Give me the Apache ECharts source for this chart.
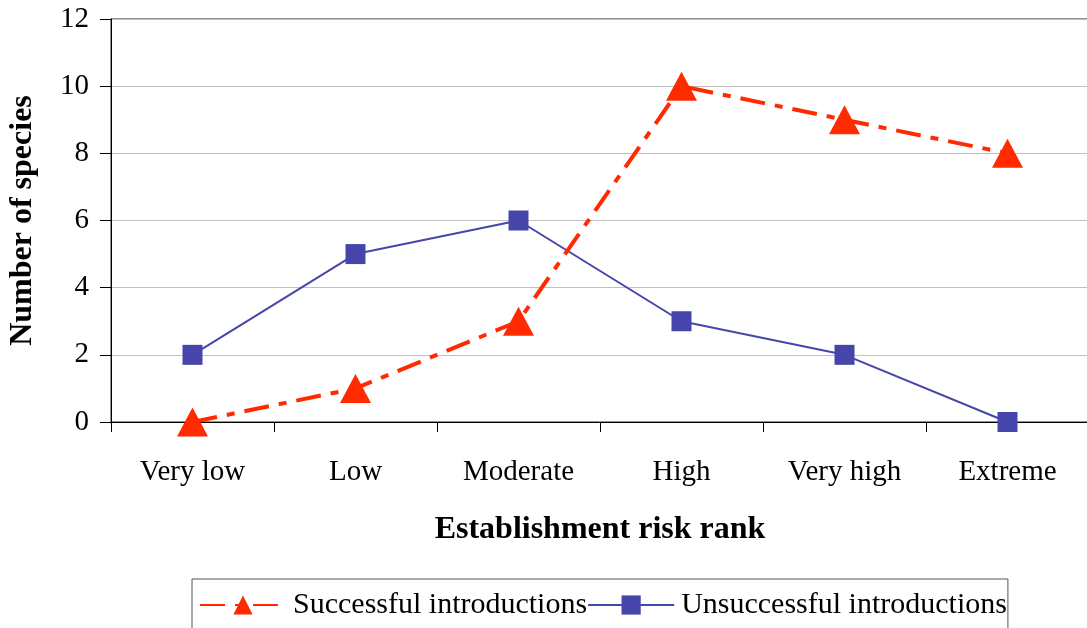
<!DOCTYPE html>
<html>
<head>
<meta charset="utf-8">
<script src="https://cdn.jsdelivr.net/npm/echarts@6/dist/echarts.min.js"></script>
<style>
  html, body { margin: 0; padding: 0; background: #fff; }
  #chart { width: 1087px; height: 628px; }
</style>
</head>
<body>
<div id="chart"></div>
<script>
// Species counts per establishment risk rank
const categories = ['Very low', 'Low', 'Moderate', 'High', 'Very high', 'Extreme'];
const successful = [0, 1, 3, 10, 9, 8];
const unsuccessful = [2, 5, 6, 3, 2, 0];
const yTicks = { min: 0, max: 12, interval: 2 };

const FONT = '"Liberation Serif", "Times New Roman", serif';

const chart = echarts.init(document.getElementById('chart'), null, { renderer: 'canvas' });

chart.setOption({
  animation: false,
  backgroundColor: '#fff',
  textStyle: { fontFamily: FONT, color: '#000' },
  grid: {
    left: 111, right: -2, top: 19, bottom: 206,
    outerBoundsMode: 'none',
    containLabel: false,
    show: true, borderColor: '#222', borderWidth: 1, backgroundColor: 'transparent'
  },
  legend: {
    left: 192, top: 579,
    padding: [11, 1, 20, 7],
    itemGap: 0,
    itemWidth: 86,
    itemHeight: 24,
    borderColor: '#555', borderWidth: 1,
    textStyle: { fontFamily: FONT, fontSize: 30, color: '#000', padding: [0, 0, 0, 2] },
    data: ['Successful introductions', 'Unsuccessful introductions']
  },
  xAxis: {
    type: 'category',
    data: categories,
    boundaryGap: true,
    name: 'Establishment risk rank',
    nameLocation: 'middle',
    nameGap: 92,
    nameTextStyle: { fontFamily: FONT, fontSize: 32, fontWeight: 'bold', color: '#000' },
    axisLine: { lineStyle: { color: '#000', width: 1 } },
    axisTick: { show: true, length: 10, alignWithLabel: false, lineStyle: { color: '#000' } },
    axisLabel: { fontFamily: FONT, fontSize: 29, color: '#000', margin: 36 },
    splitLine: { show: false }
  },
  yAxis: {
    type: 'value',
    min: yTicks.min, max: yTicks.max, interval: yTicks.interval,
    name: 'Number of species',
    nameLocation: 'middle',
    nameGap: 72,
    nameRotate: 90,
    nameTextStyle: { fontFamily: FONT, fontSize: 32, fontWeight: 'bold', color: '#000' },
    axisLine: { show: true, lineStyle: { color: '#000', width: 1 } },
    axisTick: { show: true, length: 11, lineStyle: { color: '#000' } },
    axisLabel: { fontFamily: FONT, fontSize: 29, color: '#000', margin: 22 },
    splitLine: { show: true, lineStyle: { color: '#c0c0c0', width: 1 } }
  },
  series: [
    {
      name: 'Successful introductions',
      type: 'line',
      data: successful,
      symbol: 'triangle',
      symbolSize: [31, 29],
      itemStyle: { color: '#ff2a00' },
      lineStyle: { color: '#ff2a00', width: 4, type: [25, 10, 8, 10] },
      z: 3
    },
    {
      name: 'Unsuccessful introductions',
      type: 'line',
      data: unsuccessful,
      symbol: 'rect',
      symbolSize: 20,
      itemStyle: { color: '#4646aa' },
      lineStyle: { color: '#4646aa', width: 2 },
      z: 2
    }
  ]
});
</script>
</body>
</html>
